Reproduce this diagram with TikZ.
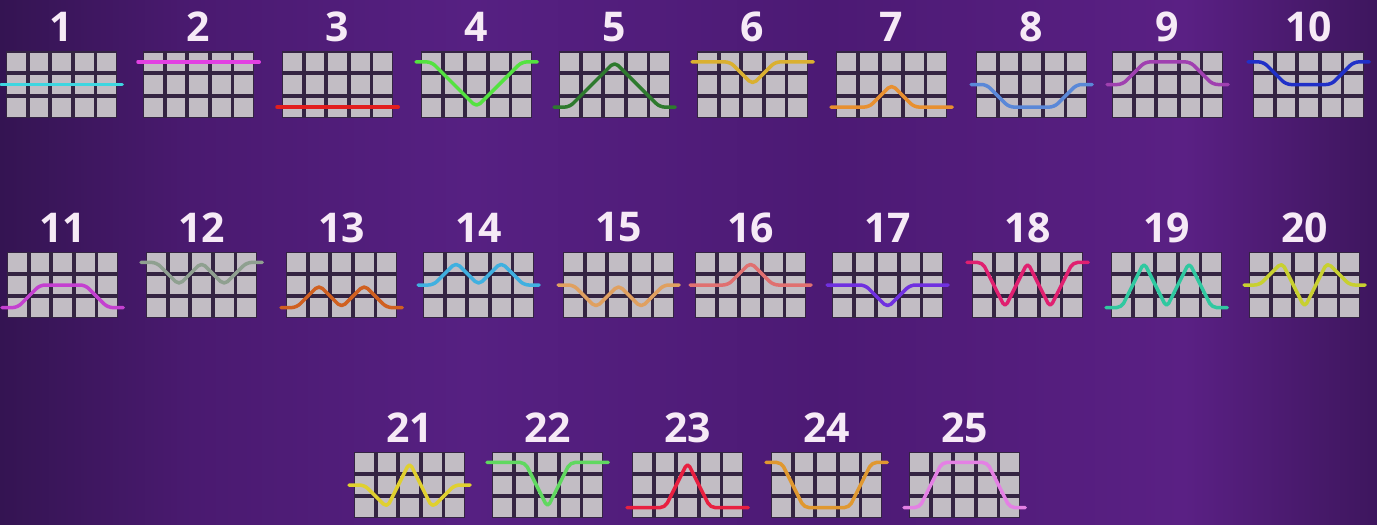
\documentclass[tikz,border=0pt]{standalone}
\usepackage{fontspec}
\setmainfont{Open Sans}
\definecolor{bgA}{RGB}{52,20,82}
\definecolor{bgB}{RGB}{74,26,112}
\definecolor{bgC}{RGB}{86,32,130}
\definecolor{bgD}{RGB}{76,26,116}
\definecolor{bgE}{RGB}{90,32,132}
\definecolor{bgF}{RGB}{62,22,94}
\definecolor{cellc}{RGB}{194,189,196}
\definecolor{gapc}{RGB}{52,36,66}
\definecolor{numc}{RGB}{246,234,246}
\definecolor{c1}{RGB}{62,214,224}
\definecolor{c2}{RGB}{226,64,226}
\definecolor{c3}{RGB}{226,30,30}
\definecolor{c4}{RGB}{84,226,64}
\definecolor{c5}{RGB}{46,122,46}
\definecolor{c6}{RGB}{218,176,48}
\definecolor{c7}{RGB}{232,144,48}
\definecolor{c8}{RGB}{90,136,216}
\definecolor{c9}{RGB}{160,64,176}
\definecolor{c10}{RGB}{32,48,200}
\definecolor{c11}{RGB}{196,64,208}
\definecolor{c12}{RGB}{143,160,144}
\definecolor{c13}{RGB}{208,96,32}
\definecolor{c14}{RGB}{64,176,224}
\definecolor{c15}{RGB}{224,160,96}
\definecolor{c16}{RGB}{224,112,112}
\definecolor{c17}{RGB}{112,48,224}
\definecolor{c18}{RGB}{224,32,112}
\definecolor{c19}{RGB}{48,200,160}
\definecolor{c20}{RGB}{200,208,48}
\definecolor{c21}{RGB}{224,208,48}
\definecolor{c22}{RGB}{96,216,96}
\definecolor{c23}{RGB}{232,32,64}
\definecolor{c24}{RGB}{224,152,48}
\definecolor{c25}{RGB}{228,128,228}
\pgfdeclarehorizontalshading{bgshade}{100bp}{color(0bp)=(bgA); color(25bp)=(bgA); color(32bp)=(bgB); color(42bp)=(bgC); color(55bp)=(bgD); color(68bp)=(bgE); color(75bp)=(bgF); color(100bp)=(bgF)}
\tikzset{
  cellbox/.style={fill=cellc},
  gapbox/.style={fill=gapc},
  numlabel/.style={text=numc, font=\bfseries\fontsize{41}{41}\selectfont, inner sep=0pt},
  payl/.style={line width=3.5pt, rounded corners=5pt, line cap=round, line join=round}
}
% #1 x, #2 y, #3 number, #4 colour, #5-#9 rows of the five reels
\newcommand\payline[9]{%
  \begin{scope}[shift={(#1,#2)}]
    \fill[gapbox] (-1.2,-1.2) rectangle (110.4,65.2);
    \foreach \cc in {0,...,4}{\foreach \rr in {0,1,2}{%
      \fill[cellbox] ({\cc*22.6},{\rr*22.6}) rectangle ++(18.8,18.8);}}
    \node[numlabel] (n#3) at (54.6,-25.5) {#3};
    \coordinate (s#3) at (-6,{#5*22.6+9.4});
    \coordinate (e#3) at (115.2,{#9*22.6+9.4});
    \draw[payl,draw=#4] (s#3) -- (9.4,{#5*22.6+9.4}) -- (32,{#6*22.6+9.4})
      -- (54.6,{#7*22.6+9.4}) -- (77.2,{#8*22.6+9.4}) -- (99.8,{#9*22.6+9.4}) -- (e#3);
  \end{scope}}
\begin{document}
\begin{tikzpicture}[x=1pt,y=-1pt]
\useasboundingbox (0,0) rectangle (1377,525);
\shade[shading=bgshade] (0,0) rectangle (1377,525);
% row 1
\payline{7}{52.5}{1}{c1}{1}{1}{1}{1}{1}
\payline{144}{52.5}{2}{c2}{0}{0}{0}{0}{0}
\payline{283}{52.5}{3}{c3}{2}{2}{2}{2}{2}
\payline{422}{52.5}{4}{c4}{0}{1}{2}{1}{0}
\payline{560}{52.5}{5}{c5}{2}{1}{0}{1}{2}
\payline{698}{52.5}{6}{c6}{0}{0}{1}{0}{0}
\payline{837}{52.5}{7}{c7}{2}{2}{1}{2}{2}
\payline{977}{52.5}{8}{c8}{1}{2}{2}{2}{1}
\payline{1113}{52.5}{9}{c9}{1}{0}{0}{0}{1}
\payline{1254}{52.5}{10}{c10}{0}{1}{1}{1}{0}
% row 2
\payline{8}{253}{11}{c11}{2}{1}{1}{1}{2}
\payline{147}{253}{12}{c12}{0}{1}{0}{1}{0}
\payline{287}{253}{13}{c13}{2}{1}{2}{1}{2}
\payline{424}{253}{14}{c14}{1}{0}{1}{0}{1}
\payline{564}{253}{15}{c15}{1}{2}{1}{2}{1}
\payline{696}{253}{16}{c16}{1}{1}{0}{1}{1}
\payline{833}{253}{17}{c17}{1}{1}{2}{1}{1}
\payline{973}{253}{18}{c18}{0}{2}{0}{2}{0}
\payline{1112}{253}{19}{c19}{2}{0}{2}{0}{2}
\payline{1250}{253}{20}{c20}{1}{0}{2}{0}{1}
% row 3
\payline{355}{453}{21}{c21}{1}{2}{0}{2}{1}
\payline{493}{453}{22}{c22}{0}{0}{2}{0}{0}
\payline{633}{453}{23}{c23}{2}{2}{0}{2}{2}
\payline{772}{453}{24}{c24}{0}{2}{2}{2}{0}
\payline{910}{453}{25}{c25}{2}{0}{0}{0}{2}
\end{tikzpicture}
\end{document}
